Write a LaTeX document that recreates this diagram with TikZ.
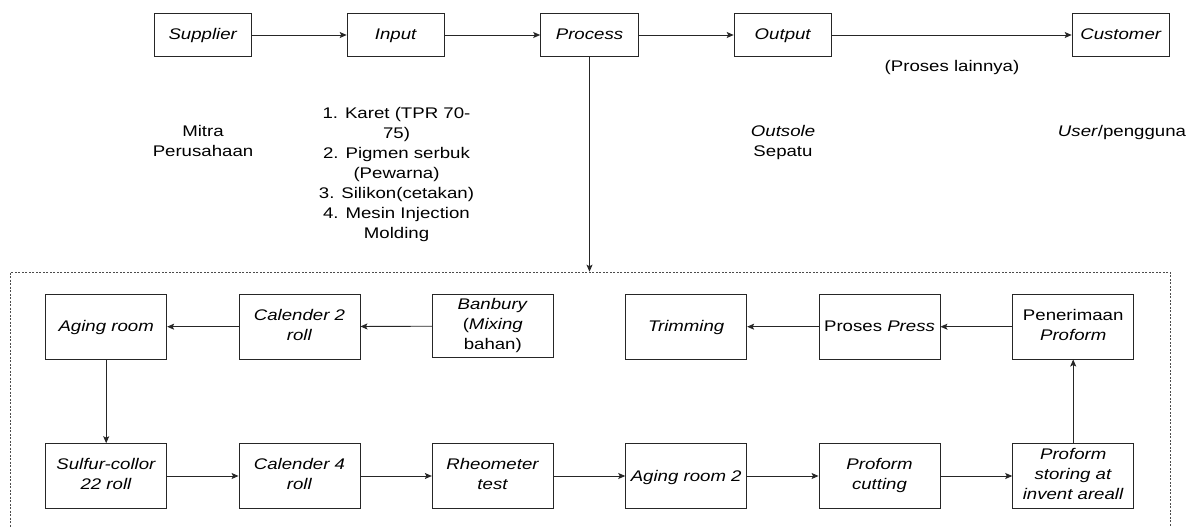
\documentclass[tikz,border=0pt]{standalone}
\usepackage{fontspec}
\setmainfont{Liberation Sans}[FakeStretch=1.21]
\usetikzlibrary{arrows.meta}
\newcommand\linestrut{\rule[-4pt]{0pt}{18pt}}
\begin{document}
\begin{tikzpicture}[x=1pt,y=-1pt,
  every node/.style={font=\fontsize{15.4}{20}\selectfont, inner sep=0pt, align=center,
    execute at begin node=\linestrut, execute at end node=\linestrut},
  topbox/.style={draw=black!85, line width=0.9pt, minimum width=97.7pt, minimum height=43.3pt},
  stepbox/.style={draw=black!85, line width=0.9pt, minimum width=121pt, minimum height=64.7pt},
  arr/.style={draw=black!85, line width=0.9pt, -{Stealth[length=7pt,width=6pt,inset=1.5pt]}},
  dashbox/.style={draw=black!70, dash pattern=on 2pt off 1.5pt, line width=0.6pt}]
\useasboundingbox (0,0) rectangle (1192,527);

% process frame
\node[dashbox, minimum width=1159.7pt, minimum height=270pt, anchor=north west] (procbox) at (10,271.7) {};

% top row
\node[topbox] (supplier) at (203,35) {\textit{Supplier}};
\node[topbox] (input) at (396,35) {\textit{Input}};
\node[topbox] (process) at (589.5,35) {\textit{Process}};
\node[topbox] (output) at (783,35) {\textit{Output}};
\node[topbox] (customer) at (1121,35) {\textit{Customer}};

\draw[arr] (supplier) -- (input);
\draw[arr] (input) -- (process);
\draw[arr] (process) -- (output);
\draw[arr] (output) -- (customer);
\draw[arr] (process.south) -- (process.south |- procbox.north);

% notes
\node (proseslain) at (952,66.7) {(Proses lainnya)};
\node (mitra) at (203,143) {Mitra\\Perusahaan};
\node (inputlist) at (396.5,174.5) {1. Karet (TPR 70-\\75)\\2. Pigmen serbuk\\(Pewarna)\\3. Silikon(cetakan)\\4. Mesin Injection\\Molding};
\node (outsole) at (783,142.7) {\textit{Outsole}\\Sepatu};
\node (user) at (1122,131.7) {\textit{User}/pengguna};

% process row 1
\node[stepbox] (aging) at (106.2,326.7) {\textit{Aging room}};
\node[stepbox] (cal2) at (299.5,326.7) {\textit{Calender 2}\\\textit{roll}};
\node[stepbox, minimum height=63.4pt] (banbury) at (492.8,326) {\textit{Banbury}\\(\textit{Mixing}\\bahan)};
\node[stepbox] (trim) at (686.2,326.7) {\textit{Trimming}};
\node[stepbox] (press) at (879.5,326.7) {Proses \textit{Press}};
\node[stepbox] (terima) at (1073.2,326.7) {Penerimaan\\\textit{Proform}};

% process row 2
\node[stepbox] (sulfur) at (106.2,476) {\textit{Sulfur-collor}\\\textit{22 roll}};
\node[stepbox] (cal4) at (299.5,476) {\textit{Calender 4}\\\textit{roll}};
\node[stepbox] (rheo) at (492.8,476) {\textit{Rheometer}\\\textit{test}};
\node[stepbox] (aging2) at (686.2,476) {\textit{Aging room 2}};
\node[stepbox] (cutting) at (879.5,476) {\textit{Proform}\\\textit{cutting}};
\node[stepbox] (storing) at (1073.2,476) {\textit{Proform}\\\textit{storing at}\\\textit{invent areall}};

% connectors
\draw[arr] (banbury) -- (cal2);
\draw[arr] (cal2) -- (aging);
\draw[arr] (aging) -- (sulfur);
\draw[arr] (sulfur) -- (cal4);
\draw[arr] (cal4) -- (rheo);
\draw[arr] (rheo) -- (aging2);
\draw[arr] (aging2) -- (cutting);
\draw[arr] (cutting) -- (storing);
\draw[arr] (storing) -- (terima);
\draw[arr] (terima) -- (press);
\draw[arr] (press) -- (trim);
\end{tikzpicture}
\end{document}
